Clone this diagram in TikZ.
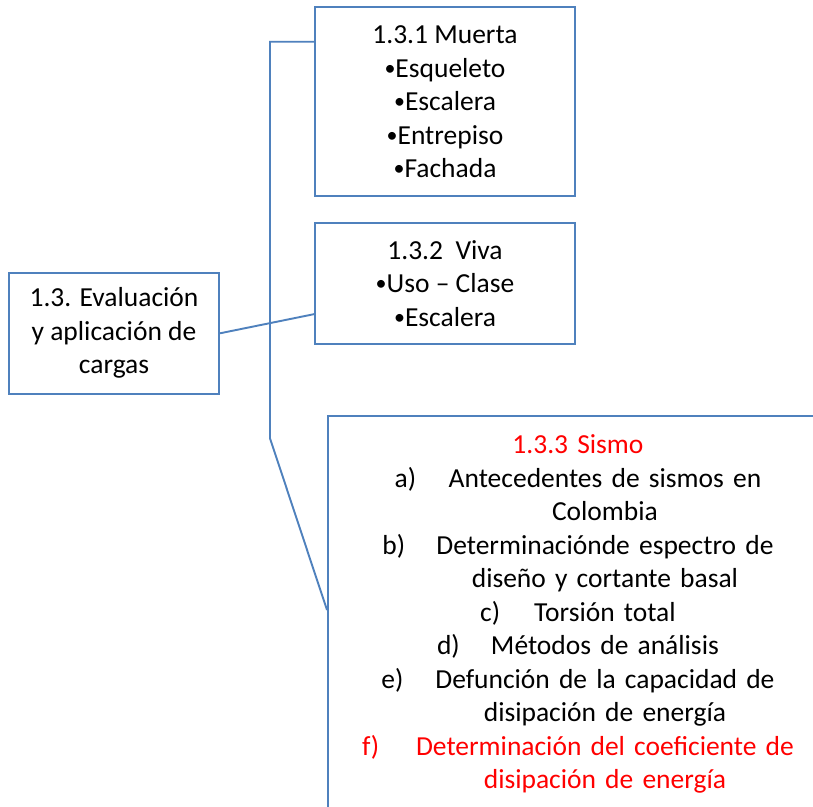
\documentclass[tikz,border=0pt]{standalone}
\usepackage{fontspec}
\setmainfont{Carlito}
\usetikzlibrary{calc}
\definecolor{boxblue}{HTML}{4F81BD}
\definecolor{txtred}{HTML}{FF0000}
\tikzset{
  box/.style={draw=boxblue, line width=1.9pt, align=center, inner sep=0pt,
    font=\fontsize{27.5}{33.5}\selectfont},
  link/.style={draw=boxblue, line width=1.9pt}
}
\newcommand{\itemlbl}[1]{\makebox[54pt][l]{#1}}
\newcommand{\contline}{\hspace*{54pt}}
\newcommand{\bul}{{\fontsize{22}{33.5}\selectfont\raisebox{1.8pt}{•}}}

\begin{document}
\begin{tikzpicture}[x=1pt,y=-1pt]
\path[use as bounding box, clip] (0,0) rectangle (813,806);
\fill[white] (0,0) rectangle (813,806);

\node[box, minimum width=210pt, minimum height=121.3pt] (evaluacion) at (114,333.3)
  {1.3. Evaluación\\y aplicación de\\cargas};
\node[box, minimum width=259.5pt, minimum height=188.7pt] (muerta) at (445,101.7)
  {1.3.1 Muerta\\\bul Esqueleto\\\bul Escalera\\\bul Entrepiso\\\bul Fachada};
\node[box, minimum width=259.5pt, minimum height=121.3pt] (viva) at (445,283.3)
  {1.3.2~ Viva\\\bul Uso – Clase\\\bul Escalera};
% box for 1.3.3, cut off at the page edge
\node[box, anchor=north west, text width=500pt, inner ysep=18.5pt] (sismo) at (327,415.3)
  {\textcolor{txtred}{1.3.3 Sismo}\\
   \itemlbl{a)}Antecedentes de sismos en\\
   \contline Colombia\\
   \itemlbl{b)}Determinaciónde espectro de\\
   \contline diseño y cortante basal\\
   \itemlbl{c)}Torsión total\\
   \itemlbl{d)}Métodos de análisis\\
   \itemlbl{e)}Defunción de la capacidad de\\
   \contline disipación de energía\\
   \textcolor{txtred}{\itemlbl{f)}Determinación del coeficiente de}\\
   \textcolor{txtred}{\contline disipación de energía}};

\coordinate (trunktop) at (270,41.7);
\coordinate (trunkbot) at (270,438.3);
\coordinate (sismoend) at (327,610);
\coordinate (vivaend) at ($(viva.south west)!0.25!(viva.north west)$);

\draw[link] (evaluacion.east) -- (vivaend);
\draw[link] (trunktop -| muerta.west) -- (trunktop) -- (trunkbot) -- (sismoend);
\end{tikzpicture}
\end{document}
